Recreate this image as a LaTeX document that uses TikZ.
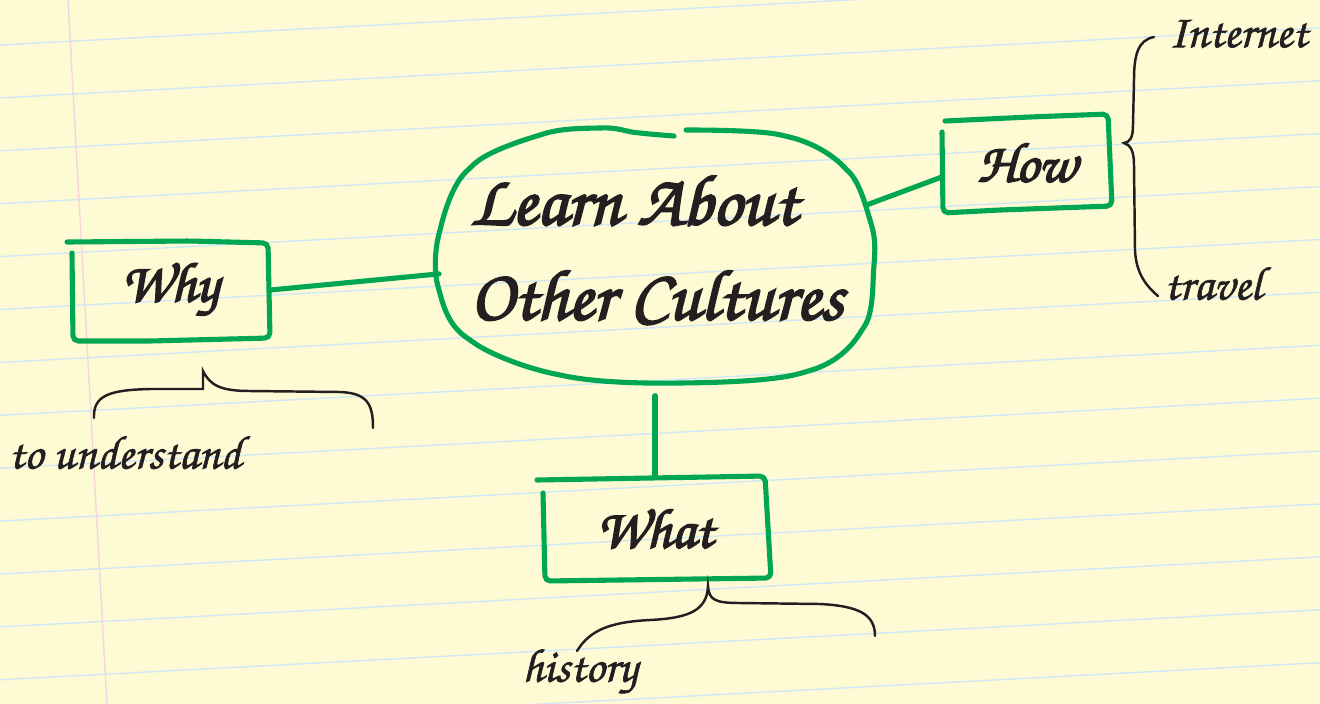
\documentclass[tikz,border=0pt]{standalone}
\usepackage[T1]{fontenc}
\usepackage{tikz}
\usetikzlibrary{shapes.geometric}
\definecolor{paperyellow}{HTML}{FEFAD4}
\definecolor{ruleblue}{HTML}{CFE8F6}
\definecolor{marginpink}{HTML}{F7D3E3}
\definecolor{markergreen}{HTML}{00A651}
\definecolor{inkblack}{HTML}{231F20}
\newcommand{\handfont}{\fontfamily{pzc}\fontseries{m}\fontshape{it}\selectfont}
% thicker ink: stroke + fill the glyphs
\newcommand{\inkon}[1]{\special{pdf:literal direct 2 Tr #1 w}}
\newcommand{\inkoff}{\special{pdf:literal direct 0 Tr}}

\begin{document}
\begin{tikzpicture}[
    x=0.02cm, y=-0.02cm,
    every node/.style={text=inkblack, inner sep=0pt},
    bigtext/.style={font=\handfont\fontsize{41}{54}\selectfont, align=left},
    boxtext/.style={font=\handfont\fontsize{32}{36}\selectfont},
    labeltext/.style={font=\handfont\fontsize{27}{30}\selectfont},
    marker/.style={draw=markergreen, line width=2.9pt, line cap=round, line join=round, rounded corners=3pt},
    link/.style={draw=markergreen, line width=2.9pt, line cap=round},
    brace/.style={draw=inkblack, line width=1.4pt, line cap=round}
]
    % === PAPER ===
    \useasboundingbox (0,0) rectangle (1320,704);
    \fill[paperyellow] (0,0) rectangle (1320,704);
    \begin{scope}
        \clip (0,0) rectangle (1320,704);
        \foreach \k in {-1,...,13}
            \draw[ruleblue, line width=0.8pt] (0,{45+52.9*\k}) -- (1320,{45+52.9*\k-70});
        \draw[marginpink, line width=0.8pt] (68,0) -- (107,704);
    \end{scope}

    % === CENTRAL TOPIC ===
    \node[ellipse, minimum width=8.72cm, minimum height=5.12cm] (main) at (655,255) {};
    \node[bigtext, anchor=west] (title) at (470,247) {\inkon{1.1}Learn About\\Other Cultures\inkoff};
    \draw[marker] plot[smooth, tension=0.6] coordinates {
        (686,130) (785,136) (845,168) (870,220) (874,265) (862,330) (805,372)
        (680,383) (560,375) (470,340) (439,290) (440,230) (470,168) (540,135)
        (600,128) (640,133) (674,136)};

    % === BRANCHES ===
    \node[boxtext, minimum width=4cm, minimum height=1.96cm] (why) at (170,290) {\inkon{0.9}Why\inkoff};
    \draw[marker] (67,242) -- (190,241) -- (268,243) -- (270,338) -- (150,341) -- (73,341) -- (72,253);

    \node[boxtext, minimum width=3.4cm, minimum height=1.9cm] (how) at (1027,162) {\inkon{0.9}How\inkoff};
    \draw[marker] (945,121) -- (1030,117) -- (1108,114) -- (1112,206) -- (1000,210) -- (943,213) -- (942,132);

    \node[boxtext, minimum width=4.56cm, minimum height=2cm] (what) at (655,528) {\inkon{0.9}What\inkoff};
    \draw[marker] (537,480) -- (765,476) -- (771,578) -- (545,581) -- (543,493);

    % connectors
    \draw[link] (why.east) -- (main.185);
    \draw[link, shorten <=5pt] (main.13) -- (how.190);
    \draw[link, shorten <=7pt] (main.south) -- (what.north);

    % === DETAILS ===
    \node[labeltext] (understand) at (125,452) {\inkon{0.35}to understand\inkoff};
    \draw[brace] (94,418) .. controls (93,395) and (110,390) .. (150,389) -- (203,389) -- (203,371)
        .. controls (210,385) and (220,391) .. (250,391) -- (340,392)
        .. controls (368,393) and (373,405) .. (373,428);

    \node[labeltext] (internet) at (1238,33) {\inkon{0.35}Internet\inkoff};
    \node[labeltext] (travel) at (1213,283) {\inkon{0.35}travel\inkoff};
    \draw[brace] (1154,37) .. controls (1138,40) and (1134,55) .. (1134,80) -- (1133,125)
        .. controls (1133,138) and (1130,142) .. (1124,143)
        .. controls (1131,145) and (1134,152) .. (1134,165) -- (1135,250)
        .. controls (1136,272) and (1145,285) .. (1158,296);

    \node[labeltext] (history) at (580,672) {\inkon{0.35}history\inkoff};
    \draw[brace] (577,651) .. controls (590,630) and (610,622) .. (650,620)
        .. controls (690,618) and (707,610) .. (708,586)
        .. controls (709,600) and (715,603) .. (740,603) -- (820,604)
        .. controls (860,606) and (875,615) .. (875,636);
\end{tikzpicture}
\end{document}
